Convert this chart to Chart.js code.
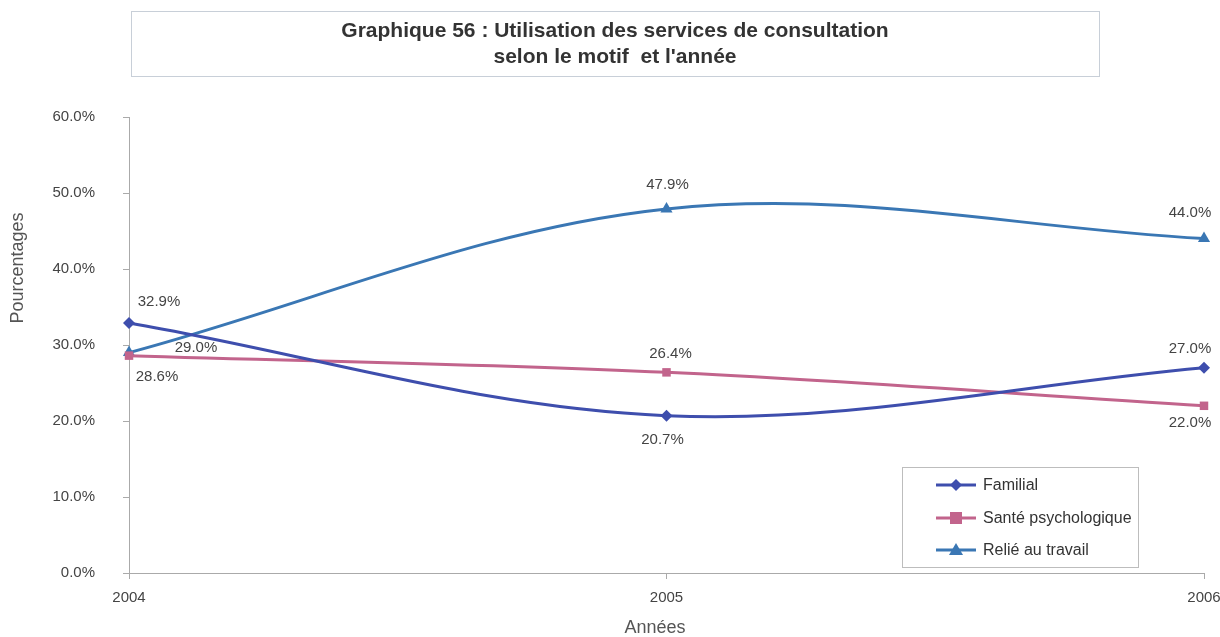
<!DOCTYPE html>
<html><head><meta charset="utf-8">
<script src="https://cdn.jsdelivr.net/npm/chart.js@4/dist/chart.umd.min.js"></script>
<style>html,body{margin:0;padding:0;background:#fff;}#wrap{width:1220px;height:637px;position:relative;}</style>
</head><body><div id="wrap"><canvas id="c" width="1220" height="637"></canvas></div>
<script>
const categories = ['2004', '2005', '2006'];
const familial = [32.9, 20.7, 27.0];
const santePsy = [28.6, 26.4, 22.0];
const relieTravail = [29.0, 47.9, 44.0];
const seriesNames = ['Familial', 'Santé psychologique', 'Relié au travail'];
const yTicks = [0, 10, 20, 30, 40, 50, 60];
const titleLines = ['Graphique 56 : Utilisation des services de consultation', 'selon le motif  et l\'année'];
const xTitle = 'Années';
const yTitle = 'Pourcentages';

const FONT = '"Liberation Sans", Arial, sans-serif';
const colors = ['#3e4ead', '#c2648c', '#3a77b4'];
const labelOffsets = [
  [[30,-21],[-4,24],[-14,-19]],
  [[28,21],[4,-19],[-14,17]],
  [[67,-5],[1,-24],[-14,-26]]
];

const decor = {
  id: 'decor',
  afterDraw(chart) {
    const ctx = chart.ctx;
    ctx.save();
    // title box
    ctx.strokeStyle = '#c8cfd8'; ctx.lineWidth = 1;
    ctx.strokeRect(131.5, 11.5, 968, 65);
    ctx.fillStyle = '#333'; ctx.font = 'bold 21px ' + FONT;
    ctx.textAlign = 'center'; ctx.textBaseline = 'middle';
    ctx.fillText(titleLines[0], 615, 31);
    ctx.fillText(titleLines[1], 615, 57);
    // axis titles
    ctx.fillStyle = '#555'; ctx.font = '18px ' + FONT;
    ctx.fillText(xTitle, 655, 628);
    ctx.save(); ctx.translate(18, 268); ctx.rotate(-Math.PI/2);
    ctx.fillText(yTitle, 0, 0); ctx.restore();
    // data labels
    ctx.font = '15px ' + FONT; ctx.fillStyle = '#444';
    chart.data.datasets.forEach((ds, i) => {
      const meta = chart.getDatasetMeta(i);
      meta.data.forEach((pt, j) => {
        const o = labelOffsets[i][j];
        ctx.fillText(ds.data[j].toFixed(1) + '%', pt.x + o[0], pt.y + o[1]);
      });
    });
    // legend
    ctx.strokeStyle = '#bdbdbd'; ctx.lineWidth = 1;
    ctx.strokeRect(902.5, 467.5, 236, 100);
    ctx.textAlign = 'left'; ctx.fillStyle = '#333'; ctx.font = '16px ' + FONT;
    const ys = [485, 518, 550];
    chart.data.datasets.forEach((ds, i) => {
      const y = ys[i];
      ctx.strokeStyle = ds.borderColor; ctx.lineWidth = 3;
      ctx.beginPath(); ctx.moveTo(936, y); ctx.lineTo(976, y); ctx.stroke();
      ctx.fillStyle = ds.borderColor;
      ctx.beginPath();
      if (i === 0) { ctx.moveTo(956, y-6); ctx.lineTo(962, y); ctx.lineTo(956, y+6); ctx.lineTo(950, y); ctx.closePath(); }
      else if (i === 1) { ctx.rect(950, y-6, 12, 12); }
      else { ctx.moveTo(956, y-7); ctx.lineTo(963, y+5); ctx.lineTo(949, y+5); ctx.closePath(); }
      ctx.fill();
      ctx.fillStyle = '#333';
      ctx.fillText(ds.label, 983, y + 1);
    });
    ctx.restore();
  }
};

new Chart(document.getElementById('c'), {
  type: 'line',
  data: {
    labels: categories,
    datasets: [
      { label: seriesNames[0], data: familial, borderColor: colors[0], backgroundColor: colors[0], pointStyle: 'rectRot', pointRadius: 6 },
      { label: seriesNames[1], data: santePsy, borderColor: colors[1], backgroundColor: colors[1], pointStyle: 'rect', pointRadius: 6 },
      { label: seriesNames[2], data: relieTravail, borderColor: colors[2], backgroundColor: colors[2], pointStyle: 'triangle', pointRadius: 7 }
    ].map(d => Object.assign(d, { borderWidth: 3, tension: 0.35, fill: false, pointBorderWidth: 0, clip: false }))
  },
  options: {
    responsive: false, animation: false,
    layout: { padding: { left: 0, top: 117, right: 16, bottom: 0 } },
    plugins: { legend: { display: false }, title: { display: false }, tooltip: { enabled: false } },
    scales: {
      x: {
        offset: false,
        grid: { drawOnChartArea: false, color: '#aaa', tickLength: 6 },
        border: { color: '#aaa' },
        ticks: { color: '#444', font: { family: FONT, size: 15 }, padding: 10, maxRotation: 0 },
        afterFit(s) { s.height = 64; s.paddingLeft = 0; s.paddingRight = 0; }
      },
      y: {
        min: 0, max: 60,
        afterBuildTicks(s) { s.ticks = yTicks.map(v => ({ value: v })); },
        grid: { drawOnChartArea: false, color: '#aaa', tickLength: 6 },
        border: { color: '#aaa' },
        ticks: { color: '#444', font: { family: FONT, size: 15 }, padding: 28, callback: v => v.toFixed(1) + '%' },
        afterFit(s) { s.width = 129; s.paddingTop = 0; s.paddingBottom = 0; }
      }
    }
  },
  plugins: [decor]
});
</script></body></html>
